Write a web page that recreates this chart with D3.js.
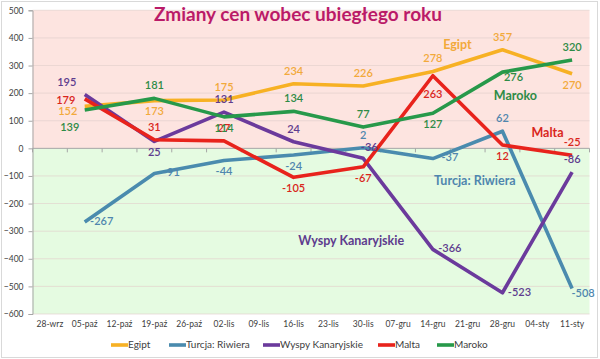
<!DOCTYPE html>
<html><head><meta charset="utf-8">
<script src="https://cdn.jsdelivr.net/npm/d3@7/dist/d3.min.js"></script>
<style>body{margin:0;background:#fff}svg{display:block}</style>
</head><body><svg id="c" width="600" height="359"></svg>
<script>
const categories = ["28-wrz","05-paź","12-paź","19-paź","26-paź","02-lis","09-lis","16-lis","23-lis","30-lis","07-gru","14-gru","21-gru","28-gru","04-sty","11-sty"];
const yTicks = [500,400,300,200,100,0,-100,-200,-300,-400,-500,-600];
const seriesNames = ["Egipt","Turcja: Riwiera","Wyspy Kanaryjskie","Malta","Maroko"];
const egipt   = [null,152,null,173,null,175,null,234,null,226,null,278,null,357,null,270];
const turcja  = [null,-267,null,-91,null,-44,null,-24,null,2,null,-37,null,62,null,-508];
const wyspy   = [null,195,null,25,null,131,null,24,null,-36,null,-366,null,-523,null,-86];
const malta   = [null,179,null,31,null,27,null,-105,null,-67,null,263,null,12,null,-25];
const maroko  = [null,139,null,181,null,114,null,134,null,77,null,127,null,276,null,320];
const colors = ["#F7B124","#4A8BAE","#6B3A9C","#E8231C","#27994A"];
const labelColors = ["#F2A93B","#4F86AE","#5E3C8E","#D9261C","#2E8B46"];
// label placement per point: a=above, b=below, l=left, r=right, etc.
const labelPos = [
  ["l2","b","a","a","a","a","a","b"],
  ["r","r","b","b","a","r","a","br"],
  ["al","b","a","a","ar","r","r","a"],
  ["l","a","a","b","b","bb","b","a"],
  ["bl","a","b","a","a","b","br","a"]
];
const seriesData = [egipt, turcja, wyspy, malta, maroko];

const svg = d3.select("#c");
const W = 600, H = 359;
const m = {left:32.5, right:10.5};
const x = d3.scaleBand().domain(categories).range([m.left, W - m.right]);
const y = d3.scaleLinear().domain([-600,500]).range([314, 10.3]);
const FONT = "Lato, 'Open Sans', sans-serif";

// chart border
svg.append("rect").attr("x",1.5).attr("y",1.5).attr("width",W-4).attr("height",H-3)
  .attr("fill","#fff").attr("stroke","#d9d9d9");

// backgrounds
svg.append("rect").attr("x",m.left).attr("y",y(500)).attr("width",x.range()[1]-m.left)
  .attr("height",y(0)-y(500)).attr("fill","#FDE4E0");
svg.append("rect").attr("x",m.left).attr("y",y(0)).attr("width",x.range()[1]-m.left)
  .attr("height",y(-600)-y(0)).attr("fill","#E5FBE1");

// gridlines
svg.append("g").selectAll("line").data(yTicks.filter(d=>d!==0)).join("line")
  .attr("x1",m.left).attr("x2",x.range()[1]).attr("y1",d=>y(d)).attr("y2",d=>y(d))
  .attr("stroke","#e2cfcc").attr("stroke-width",0.8).attr("opacity",0.8);

// y axis
const yAxis = d3.axisLeft(y).tickValues(yTicks).tickSize(4).tickPadding(5);
const gy = svg.append("g").attr("transform",`translate(${m.left},0)`).call(yAxis);
gy.select(".domain").attr("stroke","#a6a6a6");
gy.selectAll(".tick line").attr("stroke","#a6a6a6");
gy.selectAll("text").attr("fill","#404040").style("font-family",FONT).style("font-size","8.5px");

// x axis at zero with ticks at band boundaries
svg.append("line").attr("x1",m.left).attr("x2",x.range()[1]).attr("y1",y(0)).attr("y2",y(0))
  .attr("stroke","#a6a6a6").attr("stroke-width",1);
const bounds = categories.map(c=>x(c)).concat([x.range()[1]]);
svg.append("g").selectAll("line").data(bounds).join("line")
  .attr("x1",d=>d).attr("x2",d=>d).attr("y1",y(0)).attr("y2",y(0)+4).attr("stroke","#a6a6a6");

// x labels at bottom
const xAxis = d3.axisBottom(x).tickSize(0).tickPadding(6);
const gx = svg.append("g").attr("transform",`translate(0,${y(-600)+1})`).call(xAxis);
gx.select(".domain").remove();
gx.selectAll("text").attr("fill","#404040").style("font-family",FONT).style("font-size","8.5px");

// lines
const cx = c => x(c) + x.bandwidth()/2;
const line = d3.line().x(d=>cx(d.c)).y(d=>y(d.v));
seriesData.forEach((arr,i)=>{
  const pts = categories.map((c,k)=>({c, v:arr[k]})).filter(d=>d.v!==null);
  svg.append("path").datum(pts).attr("d",line).attr("fill","none")
    .attr("stroke",colors[i]).attr("stroke-width",3.6).attr("stroke-linejoin","round");
});

// data labels
const off = {a:[0,-12],b:[0,12],bb:[0,19],l:[-19,2],l2:[-17,6],r:[17,0],al:[-18,-11],ar:[6,-10],bl:[-15,18],br:[11,6]};
seriesData.forEach((arr,i)=>{
  const pts = categories.map((c,k)=>({c, v:arr[k]})).filter(d=>d.v!==null);
  svg.append("g").selectAll("text").data(pts).join("text")
    .attr("x",(d,k)=>cx(d.c)+off[labelPos[i][k]][0])
    .attr("y",(d,k)=>y(d.v)+off[labelPos[i][k]][1])
    .attr("text-anchor","middle").attr("dominant-baseline","middle")
    .attr("fill",labelColors[i])
    .style("font-family",FONT).style("font-size","11px").style("font-weight","600")
    .text(d=>d.v);
});

// in-chart series names
const nameLabels = [
  {t:"Egipt", c:"28-gru", v:370, dx:-45, i:0},
  {t:"Maroko", c:"28-gru", v:186, dx:13, i:4},
  {t:"Malta", c:"28-gru", v:52, dx:45, i:3},
  {t:"Turcja: Riwiera", c:"14-gru", v:-122, dx:42, i:1},
  {t:"Wyspy Kanaryjskie", c:"30-lis", v:-340, dx:-12, i:2}
];
svg.append("g").selectAll("text").data(nameLabels).join("text")
  .attr("x",d=>cx(d.c)+d.dx).attr("y",d=>y(d.v))
  .attr("text-anchor","middle").attr("dominant-baseline","middle")
  .attr("fill",d=>labelColors[d.i])
  .style("font-family",FONT).style("font-size","12.5px").style("font-weight","bold")
  .text(d=>d.t);

// title
svg.append("text").attr("x",298).attr("y",16).attr("text-anchor","middle").attr("dominant-baseline","middle")
  .attr("fill","#BA1A68").style("font-family",FONT)
  .style("font-size","19px").style("font-weight","bold").text("Zmiany cen wobec ubiegłego roku");

// legend
const lg = svg.append("g").attr("transform","translate(0,345)");
const legendX = [111,169,263,378,437];
seriesNames.forEach((n,i)=>{
  lg.append("line").attr("x1",legendX[i]).attr("x2",legendX[i]+17).attr("y1",0).attr("y2",0)
    .attr("stroke",colors[i]).attr("stroke-width",3.6);
  lg.append("text").attr("x",legendX[i]+17).attr("y",0).attr("dominant-baseline","middle")
    .attr("fill","#404040").style("font-family",FONT).style("font-size","10px").text(n);
});
</script></body></html>
